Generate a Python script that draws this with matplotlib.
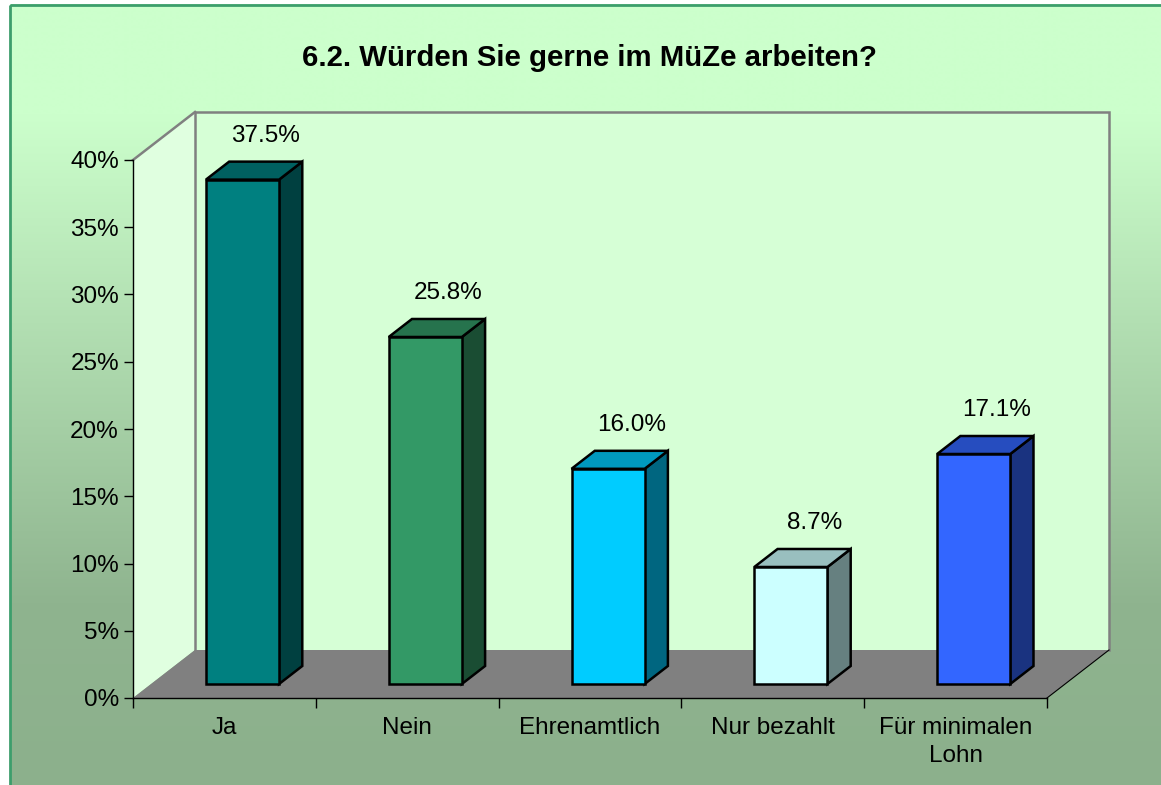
import numpy as np
import matplotlib
matplotlib.use("Agg")
import matplotlib.pyplot as plt
from matplotlib.patches import Polygon, Rectangle
from matplotlib.colors import to_rgb

plt.rcParams['font.family'] = ['Liberation Sans', 'DejaVu Sans']

# ---- data ----
title = "6.2. Würden Sie gerne im MüZe arbeiten?"
categories = ["Ja", "Nein", "Ehrenamtlich", "Nur bezahlt", "Für minimalen\nLohn"]
values = [37.5, 25.8, 16.0, 8.7, 17.1]
bar_colors = ["#008080", "#339966", "#00ccff", "#ccffff", "#3366ff"]
y_ticks = [0, 5, 10, 15, 20, 25, 30, 35, 40]
y_tick_labels = ["0%", "5%", "10%", "15%", "20%", "25%", "30%", "35%", "40%"]

W, H = 1161, 785
fig = plt.figure(figsize=(W / 100, H / 100), dpi=100)
fig.patch.set_facecolor("white")

# ---- background gradient + frame ----
bg = fig.add_axes([0, 0, 1, 1], zorder=-10)
bg.set_xlim(0, W)
bg.set_ylim(H, 0)
bg.axis("off")
ys = np.arange(H)
stops = [0, 110, 600, H]
cols = np.stack([np.array(to_rgb(c)) for c in ("#ccffcc", "#ccffcc", "#8fb48f", "#8cb08c")])
grad = np.stack([np.interp(ys, stops, cols[:, k]) for k in range(3)], axis=1)
img = np.repeat(grad[:, None, :], 2, axis=1)
bg.imshow(img, extent=[9.5, W + 2, H + 2, 4.5], aspect="auto", interpolation="bilinear")
bg.add_patch(Rectangle((9.5, 4.5), W, H, fill=False, ec="#3d9e6c", lw=2.0))
fig.text(590 / W, 1 - 58 / H, title, ha="center", va="center",
         fontsize=21.2, fontweight="bold")

# ---- main axes (front plane) ----
ax = fig.add_axes([133 / W, (H - 698) / H, 914 / W, 538 / H])
ax.set_facecolor("none")
n = len(categories)
ymax = 40
ax.set_xlim(0, n)
ax.set_ylim(0, ymax)

DX = 62 / 914 * n
DY = 48 / 538 * ymax
D_F = 14 / 48
D_B = 32 / 48
HALF = 0.2


def P(x, y, d):
    return (x + d * DX, y + d * DY)


def shade(c, f):
    r, g, b = to_rgb(c)
    return (r * f, g * f, b * f)


# walls & floor
ax.add_patch(Polygon([P(0, 0, 0), P(n, 0, 0), P(n, 0, 1), P(0, 0, 1)],
                     closed=True, fc="#808080", ec="none", clip_on=False, zorder=1))
ax.add_patch(Polygon([P(0, 0, 1), P(n, 0, 1), P(n, ymax, 1), P(0, ymax, 1)],
                     closed=True, fc="#d6ffd6", ec="none", clip_on=False, zorder=0.5))
ax.add_patch(Polygon([P(0, 0, 0), P(0, ymax, 0), P(0, ymax, 1), P(0, 0, 1)],
                     closed=True, fc="#e0ffe0", ec="none", clip_on=False, zorder=0.6))
gx = [P(0, 0, 1)[0], P(0, ymax, 1)[0], P(n, ymax, 1)[0], P(n, 0, 1)[0]]
gy = [P(0, 0, 1)[1], P(0, ymax, 1)[1], P(n, ymax, 1)[1], P(n, 0, 1)[1]]
ax.plot(gx, gy, color="#808080", lw=1.8, clip_on=False, zorder=0.8, solid_joinstyle="miter")
ax.plot([P(0, ymax, 0)[0], P(0, ymax, 1)[0]], [P(0, ymax, 0)[1], P(0, ymax, 1)[1]],
        color="#808080", lw=1.8, clip_on=False, zorder=0.8)
ax.plot([P(n, 0, 0)[0], P(n, 0, 1)[0]], [P(n, 0, 0)[1], P(n, 0, 1)[1]],
        color="black", lw=0.8, clip_on=False, zorder=1.2)

# bars
for i, (v, c) in enumerate(zip(values, bar_colors)):
    cx = i + 0.5
    x0, x1 = cx - HALF, cx + HALF
    front = [P(x0, 0, D_F), P(x1, 0, D_F), P(x1, v, D_F), P(x0, v, D_F)]
    top = [P(x0, v, D_F), P(x1, v, D_F), P(x1, v, D_B), P(x0, v, D_B)]
    side = [P(x1, 0, D_F), P(x1, 0, D_B), P(x1, v, D_B), P(x1, v, D_F)]
    for poly, f in ((side, 0.5), (top, 0.75), (front, 1.0)):
        ax.add_patch(Polygon(poly, closed=True, fc=shade(c, f), ec="black",
                             lw=1.8, joinstyle="miter", clip_on=False, zorder=3))
    ax.annotate(f"{v:.1f}%", xy=P(cx, v, D_B), xytext=(0, 18.5),
                textcoords="offset points", ha="center", va="center",
                fontsize=17.5, zorder=5, annotation_clip=False)

# axes styling
for s in ("top", "right"):
    ax.spines[s].set_visible(False)
for s in ("left", "bottom"):
    ax.spines[s].set_color("black")
    ax.spines[s].set_linewidth(1.0)
    ax.spines[s].set_zorder(2)
ax.set_yticks(y_ticks)
ax.set_yticklabels(y_tick_labels)
ax.tick_params(axis="y", direction="out", length=6.5, width=1, pad=3.6,
               labelsize=17.5, colors="black")
ax.set_xticks(np.arange(n + 1))
ax.set_xticklabels([])
ax.tick_params(axis="x", which="major", direction="out", length=7, width=1)
ax.set_xticks(np.arange(n) + 0.5, minor=True)
ax.set_xticklabels(categories, minor=True, fontsize=17.5, linespacing=1.3)
ax.tick_params(axis="x", which="minor", length=0, pad=14)

fig.savefig("out.png", dpi=100)
